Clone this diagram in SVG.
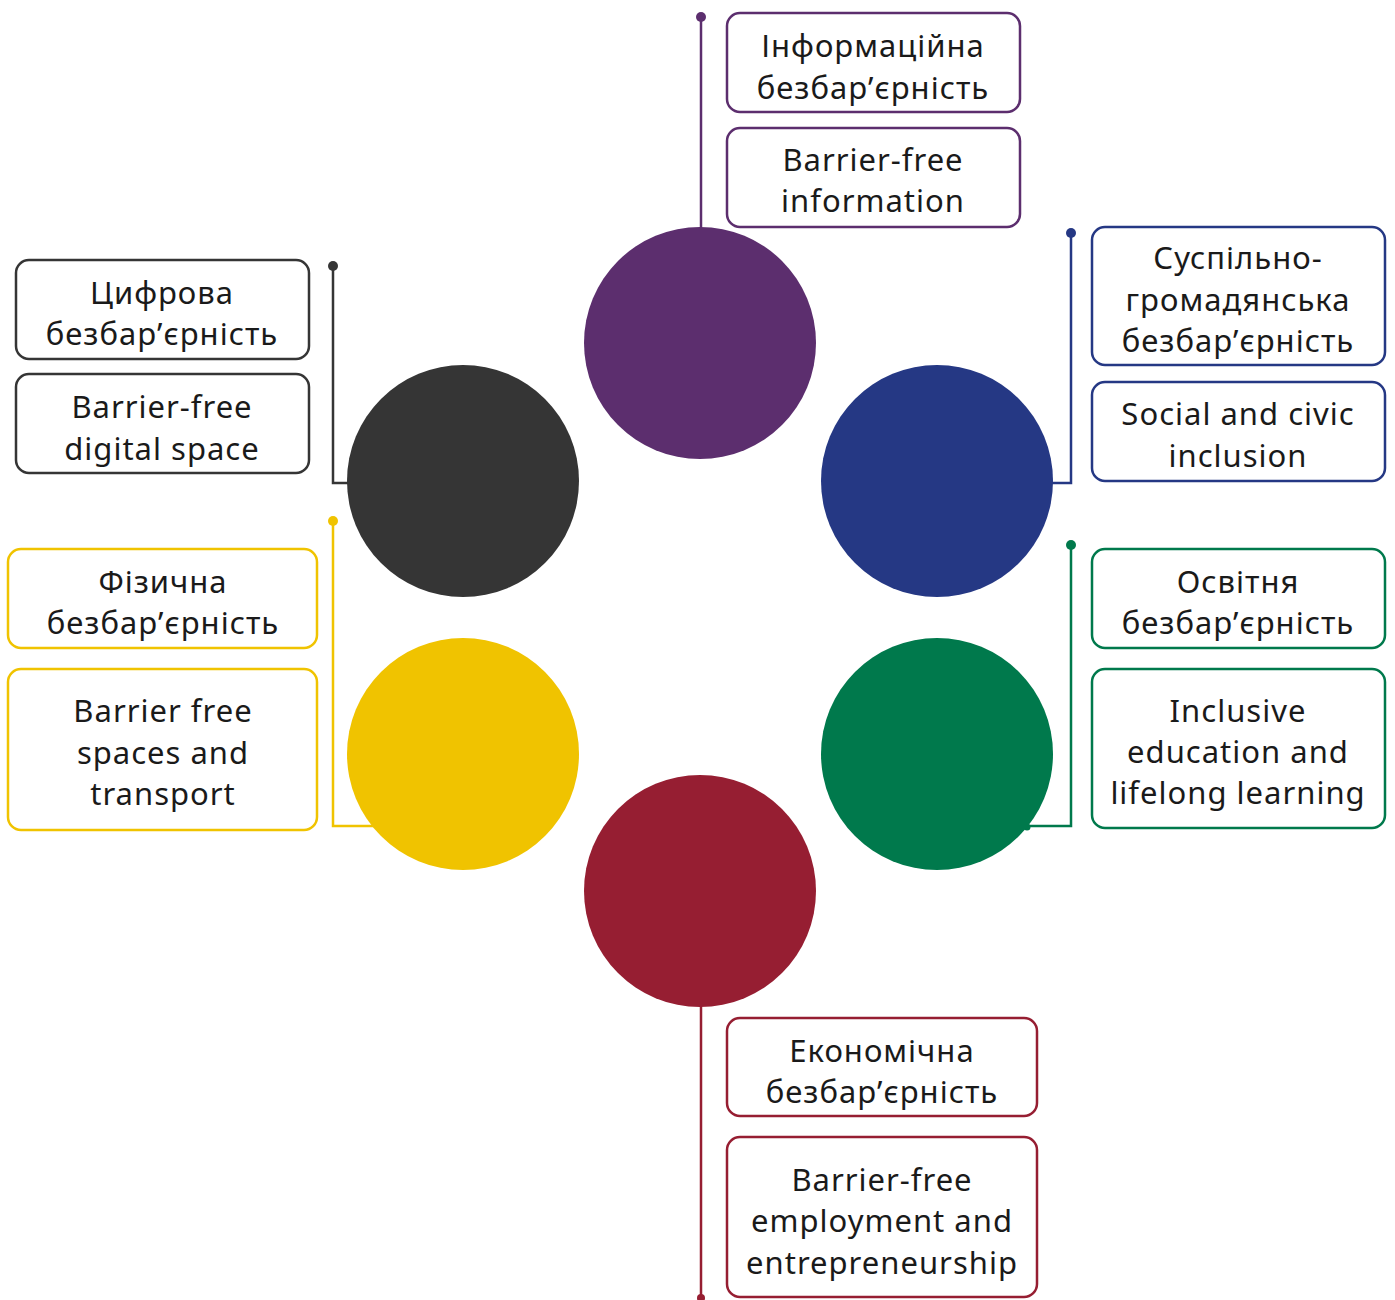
<svg xmlns="http://www.w3.org/2000/svg" width="1395" height="1300" viewBox="0 0 1395 1300">
<style>
.box{fill:#fff;stroke-width:2.5}
.t{font-family:"Noto Sans","Open Sans",sans-serif;font-size:31px;letter-spacing:1px;fill:#1a1a1a;text-anchor:middle}
.ln{fill:none;stroke-width:2.5}
</style>
<rect width="1395" height="1300" fill="#fff"/>
<g id="connectors">
<g stroke="#5C2E6E" fill="#5C2E6E"><line class="ln" x1="701" y1="17" x2="701" y2="230"/><circle cx="701" cy="17" r="5" stroke="none"/></g>
<g stroke="#353535" fill="#353535"><polyline class="ln" points="333,266 333,483 350,483"/><circle cx="333" cy="266" r="5" stroke="none"/></g>
<g stroke="#253884" fill="#253884"><polyline class="ln" points="1071,233 1071,483 1050,483"/><circle cx="1071" cy="233" r="5" stroke="none"/></g>
<g stroke="#F0C300" fill="#F0C300"><polyline class="ln" points="333,521 333,826 375,826"/><circle cx="333" cy="521" r="5" stroke="none"/></g>
<g stroke="#00794C" fill="#00794C"><polyline class="ln" points="1071,545 1071,826 1027,826"/><circle cx="1071" cy="545" r="5" stroke="none"/><circle cx="1027" cy="827" r="3.5" stroke="none"/></g>
<g stroke="#961E32" fill="#961E32"><line class="ln" x1="701" y1="1000" x2="701" y2="1297"/><circle cx="701" cy="1298" r="4" stroke="none"/></g>
</g>
<g id="node-information">
<circle cx="700" cy="343" r="116" fill="#5C2E6E"/>
<rect class="box" x="727" y="13" width="293" height="99" rx="13" stroke="#5C2E6E"/>
<text class="t" x="873" y="57">Інформаційна</text><text class="t" x="873" y="99">безбар’єрність</text>
<rect class="box" x="727" y="128" width="293" height="99" rx="13" stroke="#5C2E6E"/>
<text class="t" x="873" y="171">Barrier-free</text><text class="t" x="873" y="212">information</text>
</g>
<g id="node-digital">
<circle cx="463" cy="481" r="116" fill="#353535"/>
<rect class="box" x="16" y="260" width="293" height="99" rx="13" stroke="#353535"/>
<text class="t" x="162" y="304">Цифрова</text><text class="t" x="162" y="345">безбар’єрність</text>
<rect class="box" x="16" y="374" width="293" height="99" rx="13" stroke="#353535"/>
<text class="t" x="162" y="418">Barrier-free</text><text class="t" x="162" y="460">digital space</text>
</g>
<g id="node-social">
<circle cx="937" cy="481" r="116" fill="#253884"/>
<rect class="box" x="1092" y="227" width="293" height="138" rx="13" stroke="#253884"/>
<text class="t" x="1238" y="269">Суспільно-</text><text class="t" x="1238" y="311">громадянська</text><text class="t" x="1238" y="352">безбар’єрність</text>
<rect class="box" x="1092" y="382" width="293" height="99" rx="13" stroke="#253884"/>
<text class="t" x="1238" y="425">Social and civic</text><text class="t" x="1238" y="467">inclusion</text>
</g>
<g id="node-physical">
<circle cx="463" cy="754" r="116" fill="#F0C300"/>
<rect class="box" x="8" y="549" width="309" height="99" rx="13" stroke="#F0C300"/>
<text class="t" x="163" y="593">Фізична</text><text class="t" x="163" y="634">безбар’єрність</text>
<rect class="box" x="8" y="669" width="309" height="161" rx="13" stroke="#F0C300"/>
<text class="t" x="163" y="722">Barrier free</text><text class="t" x="163" y="764">spaces and</text><text class="t" x="163" y="805">transport</text>
</g>
<g id="node-education">
<circle cx="937" cy="754" r="116" fill="#00794C"/>
<rect class="box" x="1092" y="549" width="293" height="99" rx="13" stroke="#00794C"/>
<text class="t" x="1238" y="593">Освітня</text><text class="t" x="1238" y="634">безбар’єрність</text>
<rect class="box" x="1092" y="669" width="293" height="159" rx="13" stroke="#00794C"/>
<text class="t" x="1238" y="722">Inclusive</text><text class="t" x="1238" y="763">education and</text><text class="t" x="1238" y="804">lifelong learning</text>
</g>
<g id="node-economic">
<circle cx="700" cy="891" r="116" fill="#961E32"/>
<rect class="box" x="727" y="1018" width="310" height="98" rx="13" stroke="#961E32"/>
<text class="t" x="882" y="1062">Економічна</text><text class="t" x="882" y="1103">безбар’єрність</text>
<rect class="box" x="727" y="1137" width="310" height="160" rx="13" stroke="#961E32"/>
<text class="t" x="882" y="1191">Barrier-free</text><text class="t" x="882" y="1232">employment and</text><text class="t" x="882" y="1274">entrepreneurship</text>
</g>
</svg>
